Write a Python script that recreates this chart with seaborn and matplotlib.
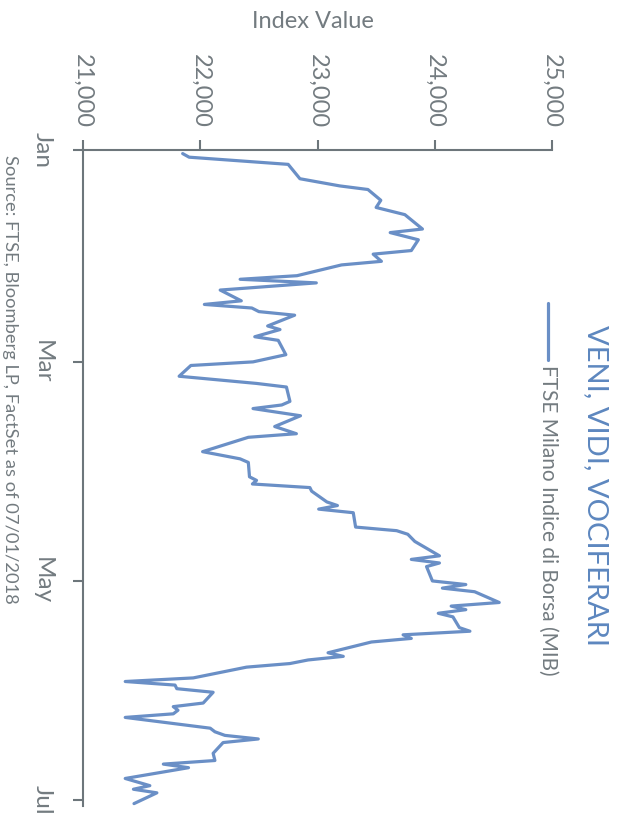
import pandas as pd
import numpy as np
import matplotlib
matplotlib.use("Agg")
import matplotlib.pyplot as plt
import seaborn as sns

# FTSE MIB daily closes, Jan - Jul 2018
dates = [
    "2018-01-02", "2018-01-03", "2018-01-05", "2018-01-09", "2018-01-11", "2018-01-12",
    "2018-01-15", "2018-01-17", "2018-01-19", "2018-01-23", "2018-01-24", "2018-01-26",
    "2018-01-29", "2018-01-30", "2018-02-01", "2018-02-02", "2018-02-05", "2018-02-06",
    "2018-02-07", "2018-02-09", "2018-02-12", "2018-02-13", "2018-02-14", "2018-02-15",
    "2018-02-16", "2018-02-19", "2018-02-20", "2018-02-22", "2018-02-23", "2018-02-27",
    "2018-03-01", "2018-03-02", "2018-03-05", "2018-03-07", "2018-03-08", "2018-03-12",
    "2018-03-13", "2018-03-14", "2018-03-16", "2018-03-19", "2018-03-21", "2018-03-22",
    "2018-03-26", "2018-03-28", "2018-03-29", "2018-04-02", "2018-04-03", "2018-04-04",
    "2018-04-05", "2018-04-06", "2018-04-09", "2018-04-10", "2018-04-11", "2018-04-12",
    "2018-04-16", "2018-04-17", "2018-04-18", "2018-04-20", "2018-04-24", "2018-04-25",
    "2018-04-26", "2018-04-27", "2018-05-01", "2018-05-02", "2018-05-03", "2018-05-04",
    "2018-05-07", "2018-05-08", "2018-05-09", "2018-05-10", "2018-05-11", "2018-05-14",
    "2018-05-15", "2018-05-16", "2018-05-17", "2018-05-18", "2018-05-21", "2018-05-22",
    "2018-05-23", "2018-05-24", "2018-05-25", "2018-05-28", "2018-05-29", "2018-05-30",
    "2018-05-31", "2018-06-01", "2018-06-04", "2018-06-05", "2018-06-06", "2018-06-07",
    "2018-06-08", "2018-06-11", "2018-06-12", "2018-06-13", "2018-06-14", "2018-06-15",
    "2018-06-18", "2018-06-20", "2018-06-21", "2018-06-22", "2018-06-25", "2018-06-27",
    "2018-06-28", "2018-06-29", "2018-07-02",
]
index_values = [
    21850, 21905, 22750, 22850, 23190, 23430,
    23540, 23500, 23745, 23895, 23620, 23860,
    23800, 23475, 23545, 23205, 22825, 22340,
    22990, 22170, 22350, 22035, 22440, 22500,
    22805, 22575, 22680, 22465, 22665, 22730,
    22450, 21920, 21820, 22480, 22735, 22765,
    22695, 22450, 22855, 22635, 22820, 22410,
    22020, 22340, 22410, 22420, 22480, 22445,
    22935, 22950, 23080, 23170, 23010, 23305,
    23325, 23675, 23770, 23830, 24040, 23800,
    24040, 23930, 23980, 24265, 24065, 24340,
    24550, 24140, 24265, 24030, 24155, 24210,
    24300, 23730, 23800, 23460, 23090, 23220,
    22920, 22765, 22395, 21940, 21360, 21785,
    21800, 22110, 22025, 21770, 21810, 21770,
    21360, 22085, 22125, 22210, 22495, 22195,
    22110, 22125, 21685, 21900, 21360, 21570,
    21430, 21630, 21435,
]

value_ticks = [21000, 22000, 23000, 24000, 25000]
month_ticks = ["2018-01-01", "2018-03-01", "2018-05-01", "2018-07-01"]
month_labels = ["Jan", "Mar", "May", "Jul"]

title = "VENI, VIDI, VOCIFERARI"
series_name = "FTSE Milano Indice di Borsa (MIB)"
source = "Source: FTSE, Bloomberg LP, FactSet as of 07/01/2018"

line_color = "#6a8fc6"
title_color = "#5d87bf"
grey = "#737b80"
axis_grey = "#6d767b"

sns.set_style("white")
plt.rcParams["font.family"] = ["Lato", "DejaVu Sans"]

df = pd.DataFrame({"date": pd.to_datetime(dates), "value": index_values})

W, H = 620, 831
fig = plt.figure(figsize=(W / 100, H / 100), dpi=100)
# the whole chart is turned a quarter turn clockwise
ax = fig.add_axes([83 / W, 1 - 806 / H, (552 - 83) / W, (806 - 150) / H])

sns.lineplot(data=df, x="value", y="date", orient="y", sort=False,
             color=line_color, linewidth=2.3, ax=ax)

ax.set_xlim(21000, 25000)
ax.set_ylim(pd.Timestamp("2018-07-02 16:00"), pd.Timestamp("2018-01-01"))

ax.xaxis.tick_top()
ax.set_xticks(value_ticks)
ax.set_xticklabels([f"{v:,}" for v in value_ticks], rotation=-90,
                   fontsize=17, color=grey)
ax.set_yticks(pd.to_datetime(month_ticks))
ax.set_yticklabels(month_labels, rotation=-90, fontsize=17.5, color=grey,
                   va="center")
ax.tick_params(axis="x", which="both", top=True, bottom=False, length=7,
               width=1.5, color=axis_grey, pad=9)
ax.tick_params(axis="y", which="both", left=True, length=7, width=1.5,
               color=axis_grey, pad=15)

for side in ["right", "bottom"]:
    ax.spines[side].set_visible(False)
for side in ["top", "left"]:
    ax.spines[side].set_color(axis_grey)
    ax.spines[side].set_linewidth(1.5)

ax.set_xlabel("")
ax.set_ylabel("")
fig.text(313 / W, 1 - 22 / H, "Index Value", ha="center", va="center",
         fontsize=17, color=grey)

fig.text(596 / W, 1 - 325 / H, title, rotation=-90, ha="center", va="top",
         fontsize=21, color=title_color)

# legend, turned like the rest
fig.add_artist(plt.Line2D([548 / W, 548 / W], [1 - 303 / H, 1 - 360 / H],
                          color=line_color, linewidth=2.3))
fig.text(548 / W, 1 - 365 / H, series_name, rotation=-90, ha="center",
         va="top", fontsize=15, color=grey)

fig.text(10 / W, 1 - 155 / H, source, rotation=-90, ha="center", va="top",
         fontsize=13.2, color=grey)

fig.savefig("out.png", dpi=100)
